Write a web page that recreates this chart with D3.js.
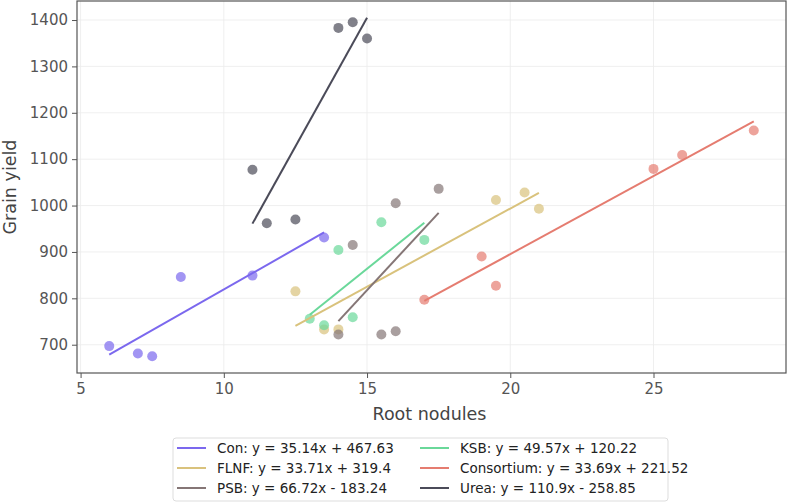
<!DOCTYPE html>
<html>
<head>
<meta charset="utf-8">
<script src="https://cdn.jsdelivr.net/npm/d3@7"></script>
<style>
  body { margin: 0; background: #fff; }
  svg { font-family: "DejaVu Sans", sans-serif; }
</style>
</head>
<body>
<svg id="chart" width="789" height="503"></svg>
<script>
// data
const groups = ["Con", "FLNF", "PSB", "KSB", "Consortium", "Urea"];
const conX = [6, 7, 7.5, 8.5, 11, 13.5];
const conY = [697, 681, 675, 846, 849, 931];
const flnfX = [12.5, 13.5, 14, 19.5, 20.5, 21];
const flnfY = [815, 733, 733, 1012, 1028, 993];
const psbX = [14, 14.5, 15.5, 16, 16, 17.5];
const psbY = [722, 915, 722, 729, 1005, 1036];
const ksbX = [13, 13.5, 14, 14.5, 15.5, 17];
const ksbY = [756, 742, 904, 759, 964, 926];
const consX = [17, 19, 19.5, 25, 26, 28.5];
const consY = [797, 890, 827, 1079, 1109, 1162];
const ureaX = [14, 14.5, 15, 11, 11.5, 12.5];
const ureaY = [1383, 1395, 1360, 1077, 962, 970];
// fit: slope, intercept (as printed in legend)
const slopes = [35.14, 33.71, 66.72, 49.57, 33.69, 110.9];
const intercepts = [467.63, 319.4, -183.24, 120.22, 221.52, -258.85];
const labels = ["Con: y = 35.14x + 467.63", "FLNF: y = 33.71x + 319.4", "PSB: y = 66.72x - 183.24",
                "KSB: y = 49.57x + 120.22", "Consortium: y = 33.69x + 221.52", "Urea: y = 110.9x - 258.85"];
const xTicks = [5, 10, 15, 20, 25];
const yTicks = [700, 800, 900, 1000, 1100, 1200, 1300, 1400];

const colors = ["#7b68ee", "#d9c27c", "#857676", "#6ad89a", "#e57c70", "#4b4b59"];
const xs = [conX, flnfX, psbX, ksbX, consX, ureaX];
const ys = [conY, flnfY, psbY, ksbY, consY, ureaY];

const series = groups.map((g, i) => ({
  name: g, color: colors[i], label: labels[i],
  pts: xs[i].map((x, j) => ({x: x, y: ys[i][j]})),
  slope: slopes[i], intercept: intercepts[i]
}));

// plot area
const margin = {top: 1, right: 3, bottom: 130, left: 77};
const W = 789, H = 503;
const w = W - margin.left - margin.right;
const h = H - margin.top - margin.bottom;

const svg = d3.select("#chart");
const g = svg.append("g").attr("transform", "translate(" + margin.left + "," + margin.top + ")");

const xScale = d3.scaleLinear().domain([4.875, 29.625]).range([0, w]);
const yScale = d3.scaleLinear().domain([639, 1441]).range([h, 0]);

// grid
g.selectAll("line.gx").data(xTicks).join("line")
  .attr("x1", d => xScale(d)).attr("x2", d => xScale(d))
  .attr("y1", 0).attr("y2", h)
  .attr("stroke", "#ebebeb").attr("stroke-width", 0.8);
g.selectAll("line.gy").data(yTicks).join("line")
  .attr("y1", d => yScale(d)).attr("y2", d => yScale(d))
  .attr("x1", 0).attr("x2", w)
  .attr("stroke", "#ebebeb").attr("stroke-width", 0.8);

// axes
const xAxis = g.append("g").attr("transform", "translate(0," + h + ")")
  .call(d3.axisBottom(xScale).tickValues(xTicks).tickSize(5).tickPadding(5).tickFormat(d3.format("d")));
const yAxis = g.append("g")
  .call(d3.axisLeft(yScale).tickValues(yTicks).tickSize(5).tickPadding(4).tickFormat(d3.format("d")));
[xAxis, yAxis].forEach(a => {
  a.select(".domain").remove();
  a.selectAll(".tick line").attr("stroke", "#555");
  a.selectAll(".tick text").attr("fill", "#555").style("font-size", "15px")
    .style("font-family", "DejaVu Sans, sans-serif");
});

// frame
g.append("rect").attr("x", 0).attr("y", 0).attr("width", w).attr("height", h)
  .attr("fill", "none").attr("stroke", "#555").attr("stroke-width", 1.2);

// points
series.forEach(s => {
  g.append("g").selectAll("circle").data(s.pts).join("circle")
    .attr("cx", d => xScale(d.x)).attr("cy", d => yScale(d.y))
    .attr("r", 5).attr("fill", s.color).attr("fill-opacity", 0.7);
});

// regression lines
series.forEach(s => {
  const x0 = d3.min(s.pts, d => d.x), x1 = d3.max(s.pts, d => d.x);
  g.append("line")
    .attr("x1", xScale(x0)).attr("y1", yScale(s.slope * x0 + s.intercept))
    .attr("x2", xScale(x1)).attr("y2", yScale(s.slope * x1 + s.intercept))
    .attr("stroke", s.color).attr("stroke-width", 2);
});

// axis labels
svg.append("text").attr("x", margin.left + w / 2 - 2).attr("y", 420)
  .attr("text-anchor", "middle").attr("fill", "#444").style("font-size", "17.5px")
  .text("Root nodules");
svg.append("text").attr("transform", "translate(16," + (margin.top + h / 2) + ") rotate(-90)")
  .attr("text-anchor", "middle").attr("fill", "#444").style("font-size", "17.5px")
  .text("Grain yield");

// legend
const leg = svg.append("g").attr("transform", "translate(173,438)");
leg.append("rect").attr("x", 0).attr("y", 0).attr("width", 495).attr("height", 63)
  .attr("rx", 3).attr("fill", "#fff").attr("stroke", "#ddd");
series.forEach((s, i) => {
  const col = Math.floor(i / 3), row = i % 3;
  const lx = 4 + col * 243, ly = 10 + row * 20;
  leg.append("line").attr("x1", lx).attr("x2", lx + 29).attr("y1", ly).attr("y2", ly)
    .attr("stroke", s.color).attr("stroke-width", 2);
  leg.append("text").attr("x", lx + 40).attr("y", ly + 4.5)
    .attr("fill", "#222").style("font-size", "13.5px").text(s.label);
});
</script>
</body>
</html>
